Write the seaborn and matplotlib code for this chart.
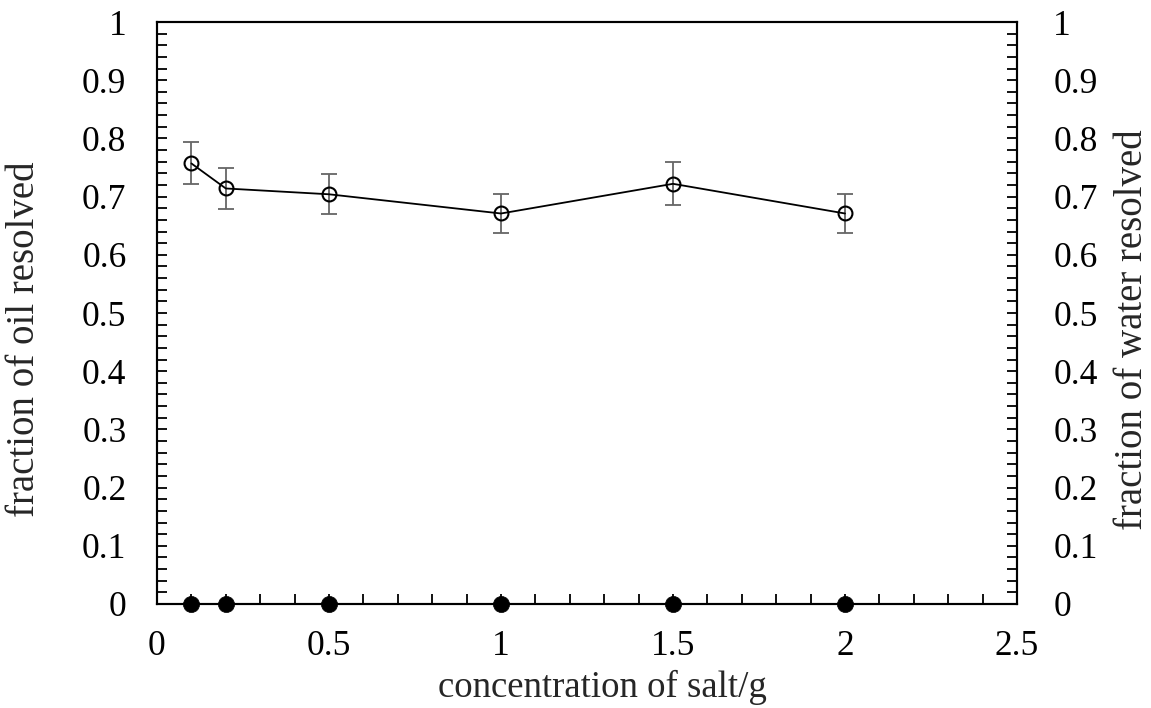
import matplotlib
matplotlib.use("Agg")
import matplotlib.pyplot as plt
from matplotlib.ticker import MultipleLocator, FuncFormatter
import seaborn as sns
import pandas as pd

# Salt concentration (g) and resolved fractions
salt = [0.1, 0.2, 0.5, 1.0, 1.5, 2.0]
oil_resolved = [0.757, 0.714, 0.704, 0.671, 0.722, 0.671]
oil_error = [0.036, 0.035, 0.034, 0.033, 0.037, 0.033]
water_resolved = [0.0, 0.0, 0.0, 0.0, 0.0, 0.0]

df = pd.DataFrame({"salt": salt, "oil": oil_resolved, "err": oil_error,
                   "water": water_resolved})

sns.set_theme(style="ticks")
plt.rcParams["font.family"] = ["Liberation Serif", "DejaVu Serif"]

fig = plt.figure(figsize=(11.51, 7.08), dpi=100)
ax = fig.add_axes([0.1364, 0.1469, 0.7472, 0.8220])
ax2 = ax.twinx()

# oil: open circles joined by a line, with grey error bars
ax.errorbar(df["salt"], df["oil"], yerr=df["err"], fmt="none",
            ecolor="#666666", elinewidth=1.3, capsize=5.5, capthick=1.3, zorder=2)
sns.lineplot(data=df, x="salt", y="oil", ax=ax, color="black", linewidth=1.3,
             marker="o", markersize=10, markerfacecolor="none",
             markeredgecolor="black", markeredgewidth=1.5, zorder=3)

# water: filled circles on the right axis
sns.scatterplot(data=df, x="salt", y="water", ax=ax2, color="black", s=135,
                edgecolor="black", linewidth=0.5, zorder=4, clip_on=False)

fmt = FuncFormatter(lambda v, p: f"{v:g}")
for a in (ax, ax2):
    a.set_ylim(0, 1)
    a.set_xlim(0, 2.5)
    a.yaxis.set_major_locator(MultipleLocator(0.1))
    a.yaxis.set_minor_locator(MultipleLocator(0.02))
    a.yaxis.set_major_formatter(fmt)
    a.tick_params(which="both", direction="in", labelsize=25.5, width=1.3,
                  length=7, colors="black")
    for s in a.spines.values():
        s.set_linewidth(1.5)
        s.set_color("black")

ax.xaxis.set_major_locator(MultipleLocator(0.5))
ax.xaxis.set_minor_locator(MultipleLocator(0.1))
ax.xaxis.set_major_formatter(fmt)
ax.tick_params(axis="x", pad=19)
ax.tick_params(axis="y", pad=22)
ax2.tick_params(axis="y", pad=26)

ax.set_xlabel("concentration of salt/g", fontsize=26.5)
ax.set_ylabel("fraction of oil resolved", fontsize=28)
ax2.set_ylabel("fraction of water resolved", fontsize=28)
ax.xaxis.set_label_coords(0.518, -0.113)
ax.yaxis.set_label_coords(-0.1326, 0.455)
ax2.yaxis.set_label_coords(1.1125, 0.471)

fig.savefig("out.png", dpi=100)
